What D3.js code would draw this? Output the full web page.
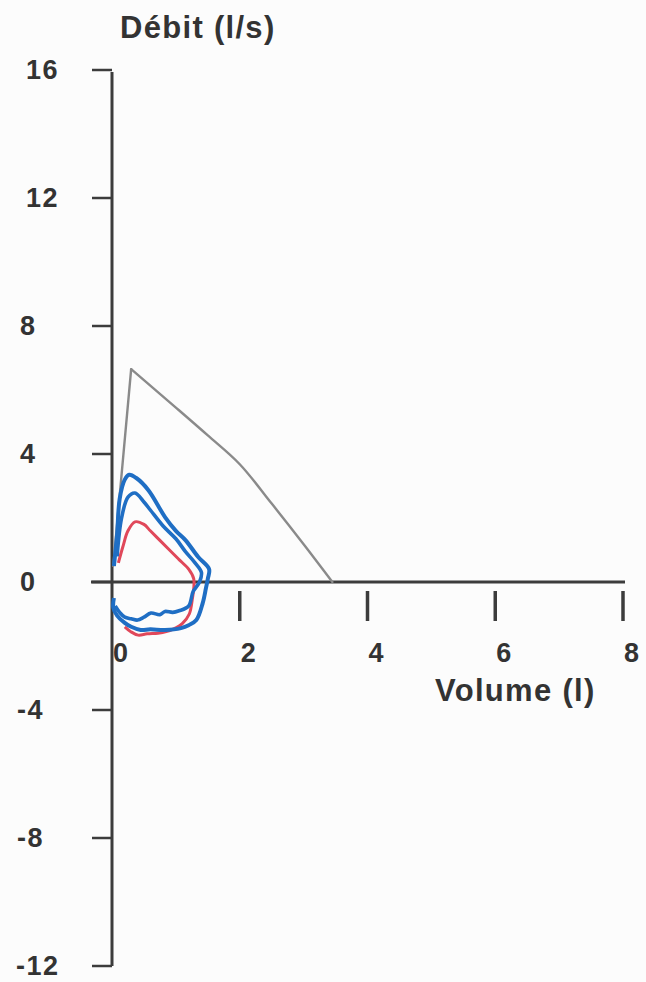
<!DOCTYPE html>
<html><head><meta charset="utf-8">
<script src="https://cdn.jsdelivr.net/npm/d3@7"></script>
<style>
html,body{margin:0;padding:0;background:#fcfcfc;}
svg{display:block;}
text{font-family:"Liberation Sans",Arial,Helvetica,sans-serif;font-weight:bold;fill:#333;}
</style></head>
<body>
<svg id="c" width="646" height="982"></svg>
<script>
// ---- data ----
const yTicks = [16, 12, 8, 4, 0, -4, -8, -12];
const xTickMarks = [2, 4, 6, 8];
const xTickLabels = [0, 2, 4, 6, 8];
const yTitle = "Débit (l/s)";
const xTitle = "Volume (l)";

// predicted (gray) curve: rise then descending limb
const predV = [0.02, 0.3, 1.0, 1.5, 2.0, 2.5, 3.0, 3.45];
const predF = [0.5, 6.65, 5.45, 4.58, 3.68, 2.45, 1.18, 0.0];

// outer blue loop
const blueOuterV = [0.03, 0.08, 0.12, 0.2, 0.27, 0.38, 0.57, 0.83, 1.0, 1.15, 1.35, 1.52, 1.5, 1.47, 1.42, 1.32, 1.2, 1.08, 0.83, 0.6, 0.45, 0.3, 0.2, 0.08, 0.02, 0.03];
const blueOuterF = [0.5, 1.5, 2.6, 3.2, 3.35, 3.25, 2.87, 2.03, 1.6, 1.31, 0.78, 0.4, 0.1, -0.2, -0.66, -1.19, -1.35, -1.44, -1.5, -1.48, -1.5, -1.4, -1.28, -1.05, -0.8, -0.5];

// inner blue loop
const blueInnerV = [0.08, 0.15, 0.25, 0.36, 0.5, 0.6, 0.8, 1.0, 1.15, 1.3, 1.4, 1.37, 1.27, 1.2, 1.05, 0.95, 0.83, 0.75, 0.61, 0.5, 0.4, 0.3, 0.2, 0.12, 0.05];
const blueInnerF = [0.8, 2.0, 2.65, 2.78, 2.5, 2.25, 1.75, 1.35, 0.95, 0.6, 0.3, 0.0, -0.3, -0.75, -0.9, -0.95, -0.92, -1.02, -0.97, -1.1, -1.19, -1.15, -1.1, -0.95, -0.75];

// red loop
const redV = [0.1, 0.17, 0.25, 0.36, 0.5, 0.6, 0.75, 0.9, 1.05, 1.2, 1.28, 1.28, 1.26, 1.21, 1.1, 0.99, 0.85, 0.72, 0.55, 0.41, 0.3, 0.2];
const redF = [0.6, 1.1, 1.6, 1.88, 1.8, 1.6, 1.3, 1.0, 0.7, 0.4, 0.1, -0.2, -0.5, -1.0, -1.3, -1.44, -1.55, -1.6, -1.62, -1.66, -1.56, -1.4];

// ---- drawing ----
const svg = d3.select("#c");
const x = d3.scaleLinear().domain([0, 8]).range([112, 623]);
const y = d3.scaleLinear().domain([-12, 16]).range([966, 70]);
const axisColor = "#3c3c3c";

// axes lines
svg.append("line").attr("x1", x(0)).attr("x2", x(0)).attr("y1", y(16) + 2).attr("y2", y(-12))
  .attr("stroke", axisColor).attr("stroke-width", 3);
svg.append("line").attr("x1", x(0) - 21).attr("x2", x(8) + 2).attr("y1", y(0)).attr("y2", y(0))
  .attr("stroke", axisColor).attr("stroke-width", 3);

// y ticks
svg.selectAll(".yt").data(yTicks).join("line")
  .attr("x1", x(0) - 20).attr("x2", x(0)).attr("y1", d => y(d)).attr("y2", d => y(d))
  .attr("stroke", axisColor).attr("stroke-width", 2.5);
svg.selectAll(".yl").data(yTicks).join("text")
  .attr("x", d => (d >= 10 ? 26 : (d <= -10 ? 16 : (d < 0 ? 17 : 20))))
  .attr("y", d => y(d) + 9)
  .attr("font-size", 27)
  .attr("letter-spacing", 1.5)
  .text(d => d);

// x ticks
svg.selectAll(".xt").data(xTickMarks).join("line")
  .attr("x1", d => x(d)).attr("x2", d => x(d)).attr("y1", y(0) + 9).attr("y2", y(0) + 39)
  .attr("stroke", axisColor).attr("stroke-width", 3.5);
svg.selectAll(".xl").data(xTickLabels).join("text")
  .attr("x", d => x(d) + 1)
  .attr("y", 662)
  .attr("font-size", 27)
  .text(d => d);

// titles
svg.append("text").attr("x", 120).attr("y", 38).attr("font-size", 31).attr("letter-spacing", 1.3).text(yTitle);
svg.append("text").attr("x", 435).attr("y", 701).attr("font-size", 31).attr("letter-spacing", 1.3).text(xTitle);

// curves
const zip = (a, b) => a.map((v, i) => [v, b[i]]);
const line = d3.line().x(d => x(d[0])).y(d => y(d[1])).curve(d3.curveCatmullRom.alpha(0.5));
const straight = d3.line().x(d => x(d[0])).y(d => y(d[1]));

const pred = zip(predV, predF);
svg.append("path").attr("d", straight(pred.slice(0, 2)))
  .attr("fill", "none").attr("stroke", "#8a8a8a").attr("stroke-width", 2.4).attr("stroke-linecap", "round");
svg.append("path").attr("d", line(pred.slice(1)))
  .attr("fill", "none").attr("stroke", "#8a8a8a").attr("stroke-width", 2.4).attr("stroke-linecap", "round");

svg.append("path").attr("d", line(zip(redV, redF)))
  .attr("fill", "none").attr("stroke", "#e0485a").attr("stroke-width", 3);
svg.append("path").attr("d", line(zip(blueInnerV, blueInnerF)))
  .attr("fill", "none").attr("stroke", "#1f6ec4").attr("stroke-width", 3.6);
svg.append("path").attr("d", line(zip(blueOuterV, blueOuterF)))
  .attr("fill", "none").attr("stroke", "#1f6ec4").attr("stroke-width", 4);
</script>
</body></html>
